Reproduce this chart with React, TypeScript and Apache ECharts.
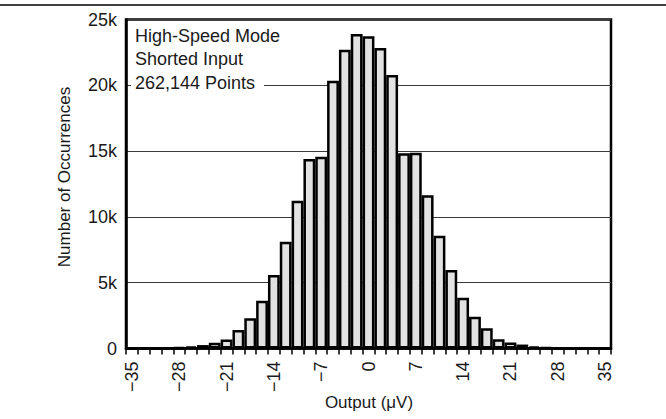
import React, { useEffect, useRef } from "react";
import * as echarts from "echarts";

const binCenters = [
  -35, -33.25, -31.5, -29.75, -28, -26.25, -24.5, -22.75, -21, -19.25, -17.5,
  -15.75, -14, -12.25, -10.5, -8.75, -7, -5.25, -3.5, -1.75, 0, 1.75, 3.5,
  5.25, 7, 8.75, 10.5, 12.25, 14, 15.75, 17.5, 19.25, 21, 22.75, 24.5, 26.25,
  28, 29.75, 31.5, 33.25, 35,
];

const occurrences = [
  0, 0, 0, 20, 60, 150, 260, 430, 680, 1400, 2300, 3630, 5590, 8120, 11230,
  14400, 14580, 20350, 22700, 23900, 23720, 22840, 20780, 14830, 14880, 11640,
  8570, 5970, 3860, 2420, 1535, 710, 460, 300, 160, 70, 20, 0, 0, 0, 0,
];

const yTicks = [0, 5000, 10000, 15000, 20000, 25000];
const noteLines = ["High-Speed Mode", "Shorted Input", "262,144 Points"];
const xTitle = "Output (μV)";
const yTitle = "Number of Occurrences";

const FONT = "Liberation Sans, Arial, Helvetica, sans-serif";
const TEXT = "#1a1a1a";

export default function App() {
  const ref = useRef<HTMLDivElement>(null);
  useEffect(() => {
    if (!ref.current) return;
    const chart = echarts.init(ref.current, undefined, { renderer: "svg" });
    const option: any = {
      animation: false,
      backgroundColor: "#ffffff",
      grid: {
        left: 126,
        right: 55,
        top: 19.5,
        bottom: 70.5,
        show: true,
        borderColor: "#000",
        borderWidth: 2.5,
        backgroundColor: "transparent",
        containLabel: false,
        outerBoundsMode: "none",
      },
      xAxis: {
        type: "category",
        data: binCenters.map(String),
        boundaryGap: true,
        axisLine: { show: true, lineStyle: { color: "#000", width: 2.5 } },
        axisTick: { show: true, interval: 0, length: 6, lineStyle: { color: "#000", width: 1.5 } },
        axisLabel: {
          interval: 3,
          rotate: 90,
          margin: 13,
          fontSize: 18,
          fontFamily: FONT,
          color: TEXT,
          formatter: (v: string) => String(v).replace("-", "\u2212"),
        },
        splitLine: { show: false },
      },
      yAxis: {
        type: "value",
        min: yTicks[0],
        max: yTicks[yTicks.length - 1],
        interval: 5000,
        axisLine: { show: true, lineStyle: { color: "#000", width: 2.5 } },
        axisTick: { show: false },
        axisLabel: {
          margin: 9,
          fontSize: 18,
          fontFamily: FONT,
          color: TEXT,
          formatter: (v: number) => (v === 0 ? "0" : v / 1000 + "k"),
        },
        splitLine: { show: true, lineStyle: { color: "#3a3a3a", width: 1 } },
      },
      series: [
        {
          type: "bar",
          data: occurrences,
          barCategoryGap: 0,
          barGap: 0,
          itemStyle: { color: "#e1e2e1", borderColor: "#000", borderWidth: 2.5 },
          z: 3,
        },
      ],
      graphic: [
        {
          type: "line",
          shape: { x1: 0, y1: 5, x2: 666, y2: 5 },
          style: { stroke: "#000", lineWidth: 1.5 },
        },
        {
          type: "rect",
          shape: { x: 131, y: 24, width: 133, height: 70 },
          style: { fill: "#fff" },
          z: 2,
        },
        ...noteLines.map((t, i) => ({
          type: "text",
          x: 135,
          y: 35.5 + i * 23.5,
          z: 5,
          style: {
            text: t,
            fill: TEXT,
            font: `18px ${FONT}`,
            textAlign: "left",
            textVerticalAlign: "middle",
          },
        })),
        {
          type: "text",
          x: 369,
          y: 402,
          style: {
            text: xTitle,
            fill: TEXT,
            font: `17px ${FONT}`,
            textAlign: "center",
            textVerticalAlign: "middle",
          },
        },
        {
          type: "text",
          x: 64,
          y: 177,
          rotation: Math.PI / 2,
          style: {
            text: yTitle,
            fill: TEXT,
            font: `17px ${FONT}`,
            textAlign: "center",
            textVerticalAlign: "middle",
          },
        },
      ],
    };
    chart.setOption(option);
    return () => chart.dispose();
  }, []);
  return (
    <div
      ref={ref}
      style={{ position: "fixed", left: 0, top: 0, width: 666, height: 419 }}
    />
  );
}
